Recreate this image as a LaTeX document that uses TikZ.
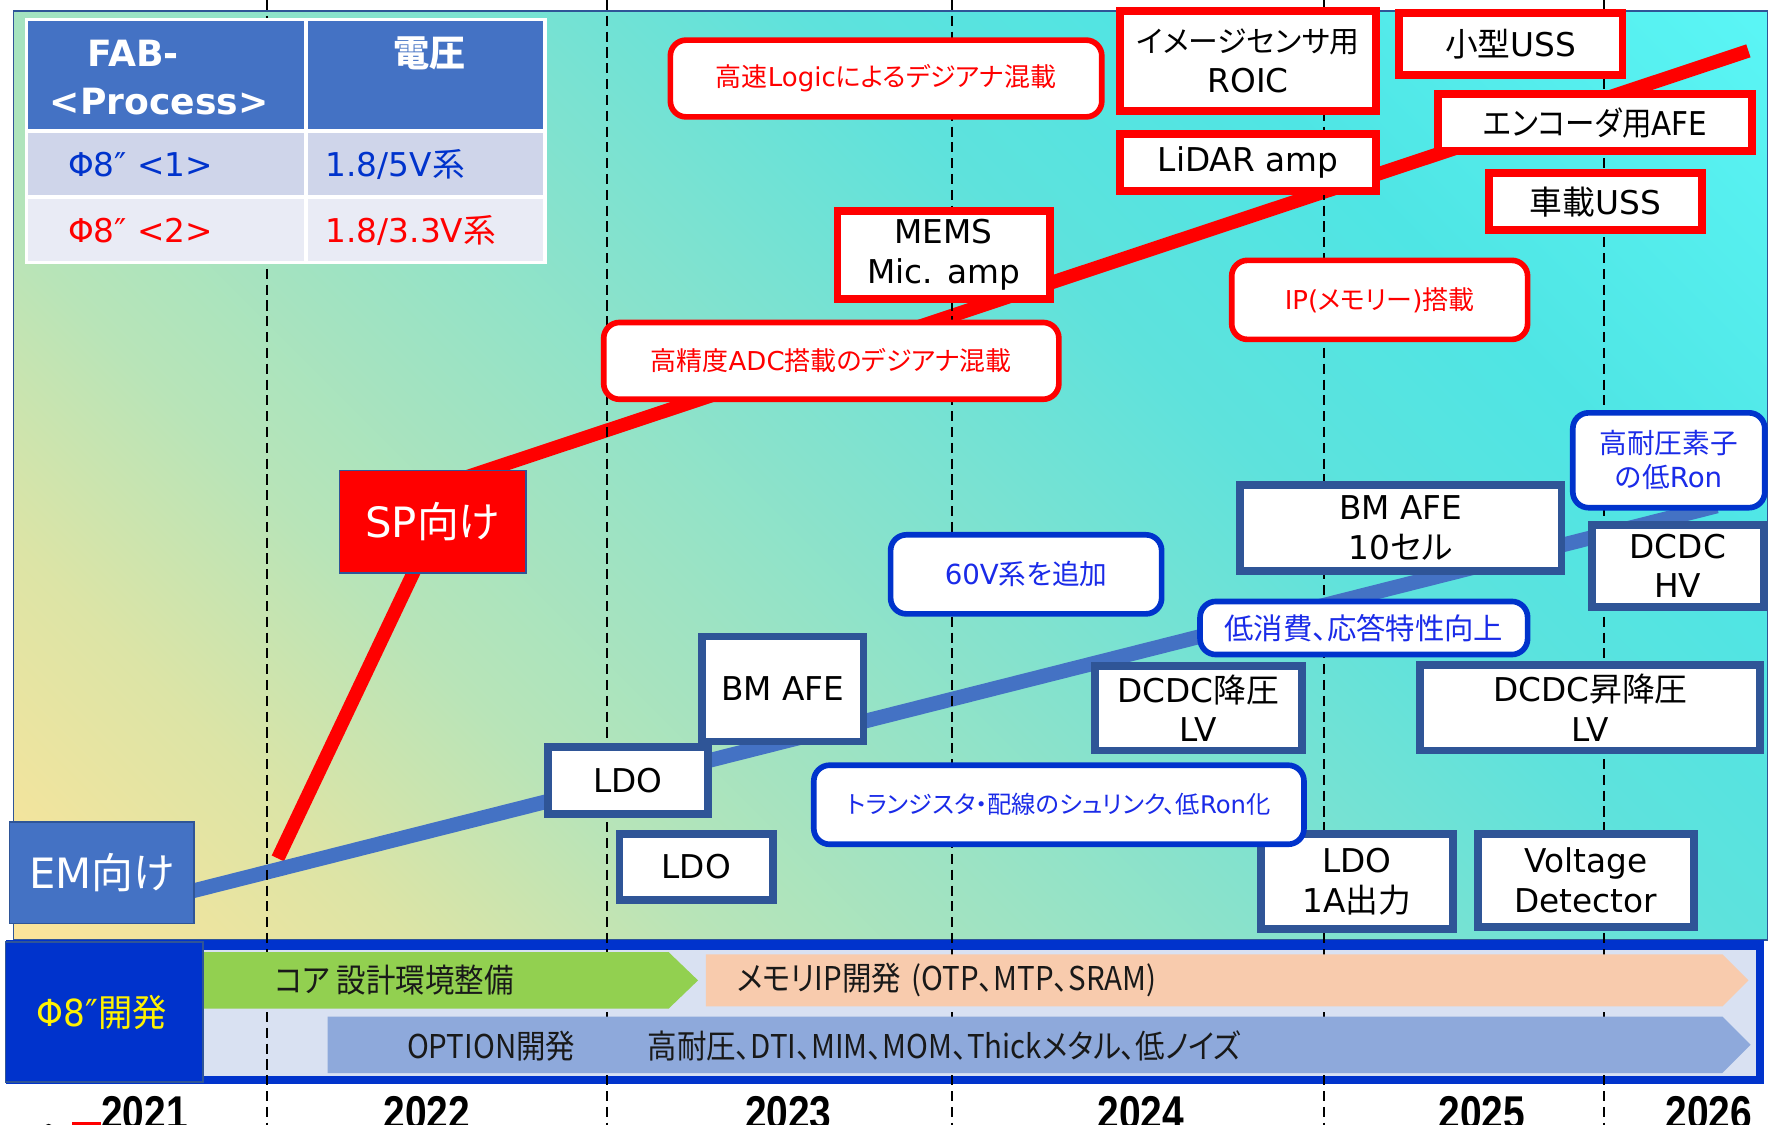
\documentclass[tikz,border=0pt]{standalone}
\usepackage{fontspec}
\usepackage{graphicx}
\setmainfont{DejaVu Sans}
\newfontfamily\dvs{DejaVu Sans}
\newfontfamily\cjkf{Noto Sans CJK JP}[RawFeature=+palt]
\newfontfamily\yearf{Liberation Sans}
\def\latinsel{\dvs}
\XeTeXinterchartokenstate=1
\newXeTeXintercharclass\CJKcls
\newcount\cjkcnt
\def\setclsrange#1#2#3{\cjkcnt=#1\relax
  \loop\XeTeXcharclass\cjkcnt=#3\relax
  \ifnum\cjkcnt<#2\advance\cjkcnt by 1\repeat}
\setclsrange{"0021}{"02FF}{0}
\setclsrange{"0370}{"03FF}{0}
\setclsrange{"2000}{"206F}{0}
\setclsrange{"3000}{"30FF}{\CJKcls}
\setclsrange{"4E00}{"9FFF}{\CJKcls}
\setclsrange{"FF00}{"FFEF}{\CJKcls}
\XeTeXinterchartoks 0 \CJKcls = {\cjkf}
\XeTeXinterchartoks 4095 \CJKcls = {\cjkf}
\XeTeXinterchartoks \CJKcls 0 = {\latinsel}
\XeTeXinterchartoks \CJKcls 4095 = {\latinsel}
\newcommand\fs[2]{\fontsize{#1pt}{#2pt}\selectfont}

\definecolor{redc}{HTML}{FF0000}
\definecolor{bordb}{HTML}{2F5597}
\definecolor{bluec}{HTML}{0033CC}
\definecolor{bluet}{HTML}{1A2BE8}
\definecolor{hdr}{HTML}{4472C4}
\definecolor{rowa}{HTML}{CFD5EA}
\definecolor{rowb}{HTML}{E9EBF5}
\definecolor{bandin}{HTML}{D9E1F2}
\definecolor{greenar}{HTML}{92D050}
\definecolor{orangear}{HTML}{F8CBAD}
\definecolor{bluear}{HTML}{8EA9DB}
\definecolor{shA}{HTML}{FBE49A}
\definecolor{shB}{HTML}{DCE4A6}
\definecolor{shC}{HTML}{B8E4B8}
\definecolor{shD}{HTML}{9BE3C4}
\definecolor{shE}{HTML}{80E2CF}
\definecolor{shF}{HTML}{5EE2DC}
\definecolor{shG}{HTML}{4FE5E4}
\definecolor{shH}{HTML}{5AF5F5}
\pgfdeclareverticalshading{bgsh}{100bp}{color(0bp)=(shA); color(15bp)=(shA); color(25bp)=(shB); color(33bp)=(shC); color(42bp)=(shD); color(50bp)=(shE); color(60bp)=(shF); color(70bp)=(shG); color(85bp)=(shH); color(100bp)=(shH)}

\pgfdeclarelayer{bg}
\pgfdeclarelayer{lines}
\pgfdeclarelayer{dash}
\pgfdeclarelayer{band}
\pgfsetlayers{bg,lines,dash,band,main}

\begin{document}
\begin{tikzpicture}[x=0.5pt,y=-0.5pt,
  redrect/.style={draw=redc, line width=3.5pt, fill=white, inner sep=0pt, align=center, text=black, font=\fs{14.5}{17.5}},
  redround/.style={draw=redc, line width=2.5pt, fill=white, rounded corners=7pt, inner sep=0pt, align=center, text=redc, font=\fs{11.5}{14}},
  bluerect/.style={draw=bordb, line width=3.5pt, fill=white, inner sep=0pt, align=center, text=black, font=\fs{14.5}{17.5}},
  blueround/.style={draw=bluec, line width=2.5pt, fill=white, rounded corners=7pt, inner sep=0pt, align=center, text=bluet, font=\fs{12.25}{15}},
  tagbox/.style={line width=0.75pt, draw=bordb, inner sep=0pt, text=white, font=\fs{18.5}{21}},
  redtrend/.style={draw=redc, line width=6pt, line join=round},
  bluetrend/.style={draw=hdr, line width=6.5pt},
  dashl/.style={draw=black, line width=0.9pt, dash pattern=on 4.5pt off 2.5pt},
  bandtxt/.style={inner sep=0pt, anchor=west, text=black!90, font={\def\latinsel{\cjkf}\cjkf\fs{14.5}{17}}},
  yeartxt/.style={inner sep=0pt, anchor=base, text=black, font=\yearf\bfseries\fs{21}{24}},
  tbltxt/.style={inner sep=0pt, anchor=west, font=\fs{14.5}{17}}
]
\useasboundingbox (0,0) rectangle (1568,996);

% background panel and band frame
\begin{pgfonlayer}{bg}
  \shade[shading=bgsh, shading angle=-45] (12,10) rectangle (1565,832);
  \draw[bordb, line width=0.75pt] (12,10) rectangle (1565,832);
  \fill[bluec] (5,832) rectangle (1562,960);
  \fill[bandin] (180,841) rectangle (1555,953);
\end{pgfonlayer}
% band arrows
\begin{pgfonlayer}{band}
  \fill[greenar] (180,843) -- (592,843) -- (618,868) -- (592,893) -- (180,893) -- cycle;
  \fill[orangear] (625,845) -- (1525,845) -- (1548,868) -- (1525,891) -- (625,891) -- cycle;
  \fill[bluear] (290,900) -- (1525,900) -- (1550,925) -- (1525,950) -- (290,950) -- cycle;
  \filldraw[fill=bluec, draw=bordb, line width=0.75pt] (5,834) rectangle (180,958);
\end{pgfonlayer}

% table
\fill[white] (22,16) rectangle (484,234);
\fill[hdr] (25,19) rectangle (269,114);
\fill[hdr] (273,19) rectangle (481,114);
\fill[rowa] (25,118) rectangle (269,173);
\fill[rowa] (273,118) rectangle (481,173);
\fill[rowb] (25,176) rectangle (269,231);
\fill[rowb] (273,176) rectangle (481,231);
\node[inner sep=0pt, text=white, font=\bfseries\fs{16}{19}] (fab) at (118,47) {FAB-};
\node[inner sep=0pt, text=white, font=\bfseries\fs{16}{19}] (proc) at (141,90) {<Process>};
\node[inner sep=0pt, text=white, font=\bfseries\fs{16}{19}] (volt) at (380,47) {電圧};
\node[tbltxt, text=bluec] (pa) at (60,146) {Φ8″ <1>};
\node[tbltxt, text=bluec] (va) at (288,146) {1.8/5V系};
\node[tbltxt, text=redc] (pb) at (60,204) {Φ8″ <2>};
\node[tbltxt, text=redc] (vb) at (288,204) {1.8/3.3V系};

% tags
\node[tagbox, fill=redc, minimum width=82.5pt, minimum height=45.5pt] (sp) at (383,462) {SP向け};
\node[tagbox, fill=hdr, minimum width=81.5pt, minimum height=45pt] (em) at (90,772.5) {EM向け};

% red-framed product boxes
\node[redrect, minimum width=113.5pt, minimum height=44.5pt] (roic) at (1105,54) {{\fs{13.2}{17.5}イメージセンサ用}\\ROIC};
\node[redrect, minimum width=99pt, minimum height=27.5pt] (usss) at (1337.5,39) {小型USS};
\node[redrect, minimum width=113.5pt, minimum height=25.5pt] (lidar) at (1105,144) {LiDAR amp};
\node[redrect, minimum width=139pt, minimum height=25pt] (afee) at (1412.5,108.5) {\scalebox{0.9}[1]{エンコーダ用AFE}};
\node[redrect, minimum width=94pt, minimum height=25pt] (ussc) at (1412.5,178.5) {車載USS};
\node[redrect, minimum width=94pt, minimum height=39pt] (mems) at (835.5,225.5) {MEMS\\Mic. amp};

% red rounded notes
\node[redround, minimum width=191pt, minimum height=34pt] (logic) at (784.5,69.5) {高速Logicによるデジアナ混載};
\node[redround, minimum width=201.5pt, minimum height=34pt] (adc) at (736,319.5) {高精度ADC搭載のデジアナ混載};
\node[redround, minimum width=131pt, minimum height=35pt] (ip) at (1221.5,265.5) {IP(メモリー)搭載};

% blue-framed product boxes
\node[bluerect, minimum width=71.5pt, minimum height=46.5pt] (bmafe) at (693,610) {BM AFE};
\node[bluerect, minimum width=70.5pt, minimum height=29.5pt] (ldoa) at (556,691) {LDO};
\node[bluerect, minimum width=68pt, minimum height=29pt] (ldob) at (616.5,767.5) {LDO};
\node[bluerect, minimum width=91.5pt, minimum height=37.5pt] (dcdclv) at (1061,627) {DCDC降圧\\LV};
\node[bluerect, minimum width=142.5pt, minimum height=38pt] (bmten) at (1240,467.5) {BM AFE\\10セル};
\node[bluerect, minimum width=76pt, minimum height=36.5pt] (dcdchv) at (1485.5,501) {DCDC\\HV};
\node[bluerect, minimum width=150.5pt, minimum height=38pt] (dcdcud) at (1408,626.5) {DCDC昇降圧\\LV};
\node[bluerect, minimum width=85pt, minimum height=42pt] (ldoone) at (1201.5,780.5) {LDO\\1A出力};
\node[bluerect, minimum width=95.5pt, minimum height=41pt] (vdet) at (1404,779.5) {Voltage\\Detector};

% blue rounded notes
\node[blueround, minimum width=120pt, minimum height=35pt] (vsixty) at (908.5,508.5) {60V系を追加};
\node[blueround, minimum width=145pt, minimum height=23.5pt, font=\fs{13}{15}] (lowp) at (1207.5,556) {低消費、応答特性向上};
\node[blueround, minimum width=217pt, minimum height=35pt, font=\fs{10.75}{13}] (shrink) at (937.5,712.5) {トランジスタ・配線のシュリンク、低Ron化};
\node[blueround, minimum width=85pt, minimum height=42pt] (hvron) at (1477.5,407.5) {高耐圧素子\\の低Ron};

% band texts
\node[inner sep=0pt, text=yellow, font=\fs{16.5}{19}] (phi) at (90,896) {\scalebox{0.92}[1]{Φ8″開発}};
\node[bandtxt] (core) at (243,868) {\scalebox{0.9}[1]{コア 設計環境整備}};
\node[bandtxt] (memip) at (652,868) {\scalebox{0.9}[1]{メモリIP開発\hspace{0.35em}(OTP、MTP、SRAM)}};
\node[bandtxt] (opt) at (360,926) {\scalebox{0.9}[1]{OPTION開発}};
\node[bandtxt] (optl) at (573,926) {\scalebox{0.9}[1]{高耐圧、DTI、MIM、MOM、Thickメタル、低ノイズ}};

% years
\node[yeartxt] (ya) at (128,1000) {\scalebox{0.82}[1]{2021}};
\node[yeartxt] (yb) at (378,1000) {\scalebox{0.82}[1]{2022}};
\node[yeartxt] (yc) at (698,1000) {\scalebox{0.82}[1]{2023}};
\node[yeartxt] (yd) at (1010,1000) {\scalebox{0.82}[1]{2024}};
\node[yeartxt] (ye) at (1312,1000) {\scalebox{0.82}[1]{2025}};
\node[yeartxt] (yf) at (1513,1000) {\scalebox{0.82}[1]{2026}};
\fill[redc] (64,993) rectangle (89,997);
\fill[black] (43,1000) circle (5);

% trend lines
\coordinate (rs) at (246,760);
\coordinate (rj) at (405,425);
\coordinate (re) at (1548,45);
\coordinate (bs) at (150,794);
\coordinate (be) at (1520,448);
\begin{pgfonlayer}{lines}
  \draw[redtrend] (rs) -- (rj) -- (re);
  \draw[bluetrend] (bs) -- (be);
\end{pgfonlayer}

% year separators
\begin{pgfonlayer}{dash}
  \foreach \xx in {236,537,843,1172,1420} {
    \draw[dashl] (\xx,0) -- (\xx,996);
  }
\end{pgfonlayer}
\end{tikzpicture}
\end{document}
